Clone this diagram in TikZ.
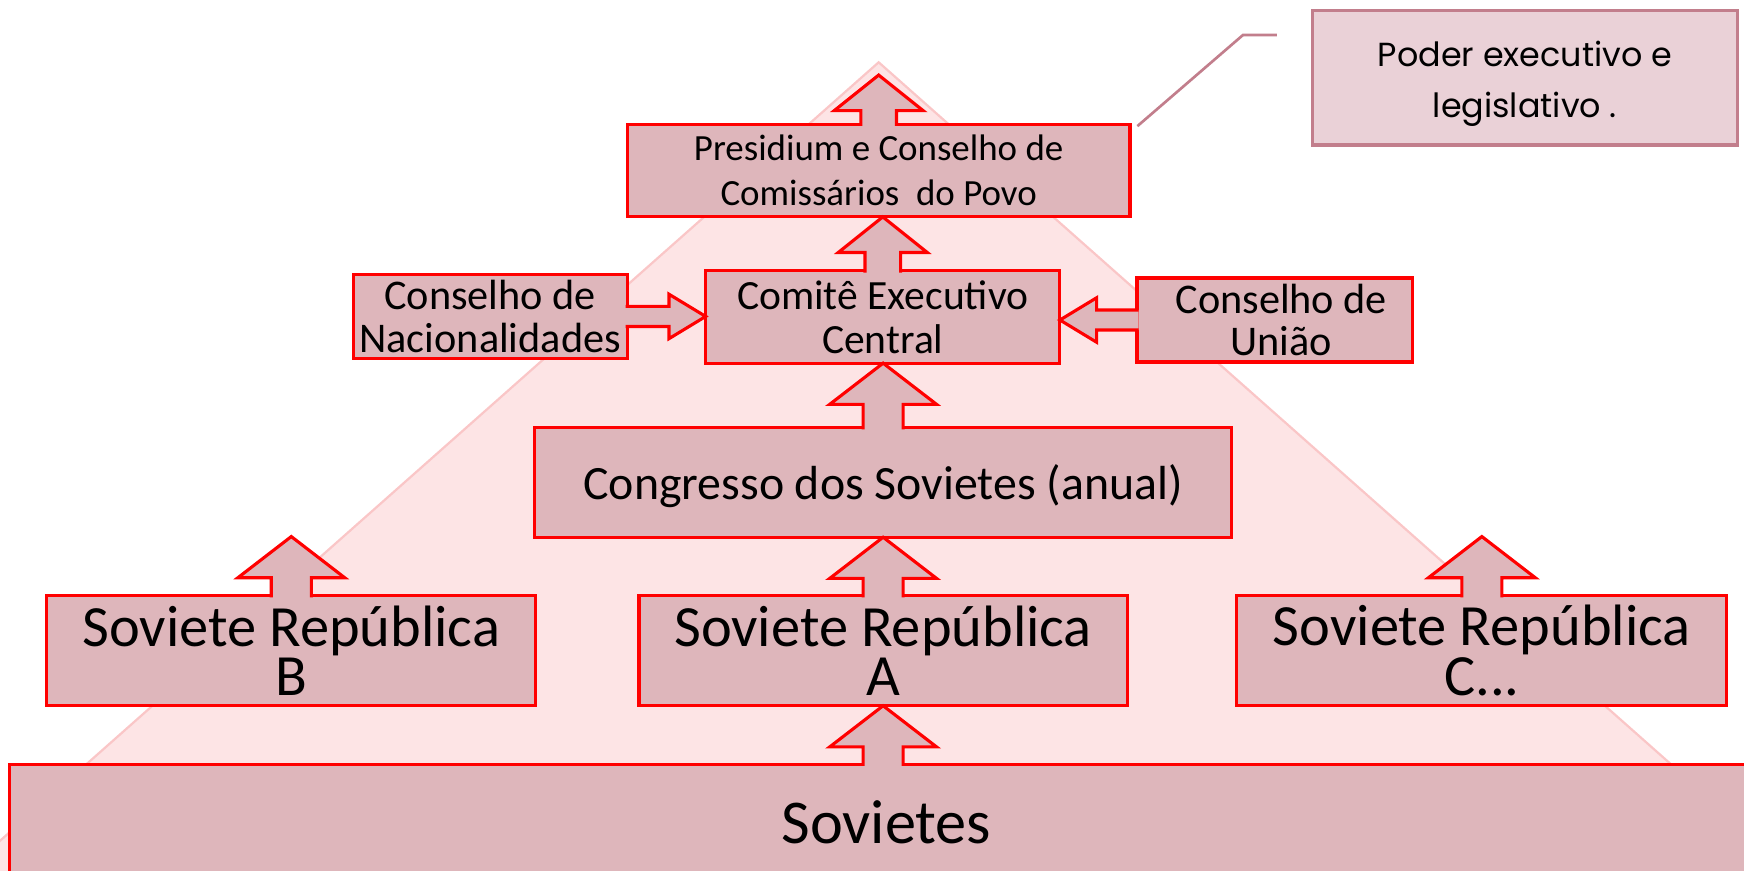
\documentclass[tikz,border=0pt]{standalone}
\usepackage{fontspec}
\setmainfont{Carlito}
\newfontfamily\poderfont{Poppins}
\usepackage{tikz}
\usetikzlibrary{calc}
\definecolor{redline}{RGB}{255,0,0}
\definecolor{boxfill}{RGB}{222,182,187}
\definecolor{pyrfill}{RGB}{253,228,229}
\definecolor{pyrline}{RGB}{250,198,199}
\definecolor{poderfill}{RGB}{234,209,215}
\definecolor{poderline}{RGB}{194,126,140}

\begin{document}
\begin{tikzpicture}[
    x = 0.5pt,
    y = -0.5pt,
    box/.style={draw=redline, line width=1.4pt, fill=boxfill, inner sep=0pt, outer sep=0pt, align=center},
    blockarrow/.style n args={3}{draw=redline, line width=1.4pt, fill=boxfill,
      to path={let \p1=(\tikztostart), \p2=(\tikztotarget), \n1={atan2(\y2-\y1,\x2-\x1)} in
        ($(\p1)+(\n1:-0.75pt)+(\n1+90:#2)$)
        -- ($(\p2)+(\n1:-#3)+(\n1+90:#2)$)
        -- ($(\p2)+(\n1:-#3)+(\n1+90:#1)$)
        -- (\p2)
        -- ($(\p2)+(\n1:-#3)+(\n1-90:#1)$)
        -- ($(\p2)+(\n1:-#3)+(\n1-90:#2)$)
        -- ($(\p1)+(\n1:-0.75pt)+(\n1-90:#2)$)}},
    toparrow/.style={blockarrow={20pt}{8pt}{16pt}},
    bigarrow/.style={blockarrow={24pt}{9pt}{18.5pt}},
    sidearrow/.style={blockarrow={10pt}{4.5pt}{16.5pt}},
    calloutline/.style={draw=poderline, line width=1.2pt}
    ]
    \useasboundingbox (0,0) rectangle (1568,783);
    \clip (0,0) rectangle (1568,783);

    % pyramid in the background
    \filldraw[fill=pyrfill, draw=pyrline, line width=1pt] (790,56) -- (1620.7,792) -- (-40.7,792) -- cycle;

    \node[box, minimum width=226pt, minimum height=41.7pt, font=\fontsize{16.6}{20}\selectfont] (pres) at (790,153.3)
        {Presidium e Conselho de\\Comissários~ do Povo};
    \node[box, minimum width=159.25pt, minimum height=41.5pt, font=\fontsize{18.7}{19.75}\selectfont] (comite) at (793.7,285)
        {Comitê Executivo\\Central};
    \node[box, minimum width=123.25pt, minimum height=37.5pt, font=\fontsize{19}{19}\selectfont] (nacional) at (440.7,284.5)
        {Conselho de\\Nacionalidades};
    \node[box, minimum width=123.75pt, minimum height=37.75pt, font=\fontsize{19}{19}\selectfont] (uniao) at (1146,287.7)
        {\hspace*{6pt}Conselho de\\\hspace*{6pt}União};
    \node[box, minimum width=313.5pt, minimum height=49.2pt, text depth=0pt, font=\fontsize{21.5}{24}\selectfont] (congresso) at (794,433.8)
        {Congresso dos Sovietes (anual)};
    \node[box, minimum width=219.7pt, minimum height=49.5pt, font=\fontsize{26.25}{19.5}\selectfont] (repB) at (261.9,585)
        {Soviete República\\B};
    \node[box, minimum width=219.5pt, minimum height=49.5pt, font=\fontsize{26.25}{19.5}\selectfont] (repA) at (794,585)
        {Soviete República\\A};
    \node[box, minimum width=220.3pt, minimum height=49.5pt, font=\fontsize{26.25}{19.5}\selectfont] (repC) at (1332.3,585)
        {Soviete República\\C...};
    \node[box, minimum width=788pt, minimum height=52.5pt, font=\fontsize{28}{30}\selectfont] (sovietes) at (796.9,739.5)
        {Sovietes};
    \node[draw=poderline, line width=1.5pt, fill=poderfill, inner sep=0pt, align=center, text height=40pt,
        minimum width=191pt, minimum height=60.5pt, font=\poderfont\fontsize{15}{23.25}\selectfont] (poder) at (1371,70)
        {Poder executivo e\\legislativo .};

    \coordinate (tipTop) at (790,67.5);
    \coordinate (tipB) at (261.9,482.4);
    \coordinate (tipC) at (1332.3,482.4);
    \coordinate (calloutEnd) at (1148,31.5);

    \draw[toparrow] (pres.north) to (tipTop);
    \draw[toparrow] (comite.north) to (comite.north |- pres.south);
    \draw[sidearrow] (nacional.east) to (nacional.east -| comite.west);
    \draw[sidearrow] (uniao.west) to (uniao.west -| comite.east);
    \draw[bigarrow] (congresso.north) to (congresso.north |- comite.south);
    \draw[bigarrow] (repA.north) to (repA.north |- congresso.south);
    \draw[bigarrow] (repB.north) to (tipB);
    \draw[bigarrow] (repC.north) to (tipC);
    \draw[bigarrow] (repA.south |- sovietes.north) to (repA.south);

    % callout to the note
    \draw[calloutline] ($(pres.north east)+(6.6,1.8)$) -- ($(calloutEnd)+(-30.5,0)$) -- (calloutEnd);
\end{tikzpicture}
\end{document}
